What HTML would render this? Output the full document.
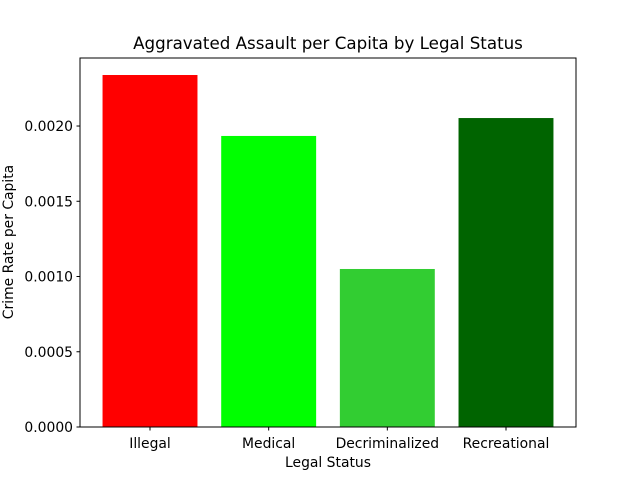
<!DOCTYPE html>
<html><head><meta charset="utf-8"><style>
body{margin:0;background:#fff}
svg text{font-family:"DejaVu Sans","Liberation Sans",sans-serif;fill:#000}
</style></head><body>
<svg id="chart" width="640" height="480" xmlns="http://www.w3.org/2000/svg">
<rect width="640" height="480" fill="#fff"/>
<text x="328" y="49" font-size="16.7" text-anchor="middle">Aggravated Assault per Capita by Legal Status</text>
<text x="328" y="467" font-size="13.9" text-anchor="middle">Legal Status</text>
<text transform="translate(13,242) rotate(-90)" font-size="13.9" text-anchor="middle">Crime Rate per Capita</text>
<g id="bars"></g><g id="ticks"></g>
<rect x="80" y="58" width="496" height="369" fill="none" stroke="#000" stroke-width="1"/>
</svg>
<script>
const categories=["Illegal","Medical","Decriminalized","Recreational"];
const values=[0.002339,0.001934,0.00105,0.002053];
const colors=["#ff0000","#00ff00","#32cd32","#006400"];
const yTicks=[0,0.0005,0.001,0.0015,0.002];
const yTickLabels=["0.0000","0.0005","0.0010","0.0015","0.0020"];
const L=80,R=576,T=58,B=427,yMax=0.002452;
const n=categories.length,xmin=-0.59,xmax=n-1+0.59;
const xs=v=>L+(v-xmin)/(xmax-xmin)*(R-L);
const ys=v=>B-v/yMax*(B-T);
const NS="http://www.w3.org/2000/svg";
const bars=document.getElementById('bars'),ticks=document.getElementById('ticks');
function mk(t,a,p){const e=document.createElementNS(NS,t);for(const k in a)e.setAttribute(k,a[k]);p.appendChild(e);return e;}
categories.forEach((c,i)=>{
 const x0=xs(i-0.4),x1=xs(i+0.4);
 const r=mk('rect',{x:x0,y:ys(values[i]),width:x1-x0,height:B-ys(values[i]),fill:colors[i]},bars);
 
 
 const tl=mk('line',{x1:xs(i),x2:xs(i),y1:B,y2:B+3.5,stroke:'#000'},ticks);
 
 
 const t=mk('text',{x:xs(i),y:B+21,'font-size':13.9,'text-anchor':'middle'},ticks);
 t.textContent=c;
 
 
});
yTicks.forEach((v,i)=>{
 const tl=mk('line',{x1:L-3.5,x2:L,y1:ys(v),y2:ys(v),stroke:'#000'},ticks);
 
 
 const t=mk('text',{x:L-7,y:ys(v)+5,'font-size':13.9,'text-anchor':'end'},ticks);
 t.textContent=yTickLabels[i];
 
 
});
</script>
</body></html>
